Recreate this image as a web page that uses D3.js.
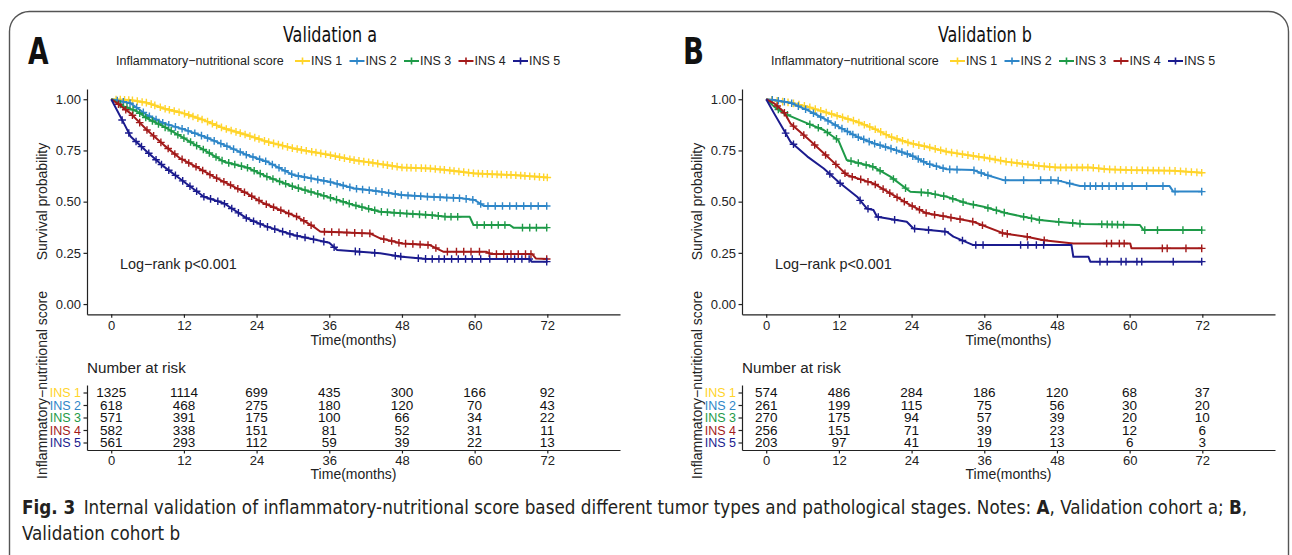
<!DOCTYPE html>
<html>
<head>
<meta charset="utf-8">
<script src="https://cdn.jsdelivr.net/npm/d3@7"></script>
<style>
  body { margin: 0; background: #fff; }
  text { font-family: "Liberation Sans", Arial, sans-serif; }
  .cond { font-family: "Liberation Sans Narrow", "DejaVu Sans Condensed", "Open Sans", sans-serif; }
</style>
</head>
<body>
<script>
// ---------- data ----------
const months = [0, 12, 24, 36, 48, 60, 72];
const groups = ["INS 1", "INS 2", "INS 3", "INS 4", "INS 5"];
const colors = ["#FFD42A", "#2E86C8", "#1E9A48", "#A31A1A", "#1B1B8E"];
const yTicks = [0, 0.25, 0.5, 0.75, 1];

// validation a : [month, survival]
const a_ins1 = [[0,1],[3.2,.996],[5.9,.983],[8.7,.955],[12,.931],[15.3,.898],[18.6,.858],[22.4,.825],[25.7,.793],[30.1,.760],[36,.728],[40,.703],[44.4,.684],[48,.667],[52.6,.662],[55.4,.654],[60,.638],[66.4,.630],[72,.618]];
const a_ins2 = [[0,1],[3.2,.98],[5.9,.923],[8.7,.882],[12,.853],[15.3,.818],[18.6,.777],[22.4,.728],[25.7,.695],[30.1,.63],[36,.597],[40,.565],[44.4,.549],[48,.532],[52.6,.524],[58,.516],[60,.508],[61.5,.479],[72,.479]];
const a_ins3 = [[0,1],[2.1,.965],[4.3,.94],[5.9,.907],[8.7,.866],[12,.81],[15.3,.753],[18.6,.695],[22.4,.667],[25.7,.622],[30.1,.573],[36,.521],[40,.484],[44.4,.451],[48,.443],[52.6,.435],[55.4,.426],[59.2,.426],[59.8,.386],[65.8,.386],[66.4,.373],[72,.373]];
const a_ins4 = [[0,1],[1,.98],[3.2,.931],[5.9,.850],[8.7,.776],[11.4,.711],[14.2,.667],[16.9,.622],[19.7,.581],[22.4,.540],[25.2,.492],[27.9,.459],[30.7,.426],[33.4,.378],[34.5,.354],[42.7,.345],[44.4,.321],[48,.296],[52.6,.288],[54.8,.256],[61.9,.256],[62.7,.244],[69.5,.244],[70.1,.223],[72,.220]];
const a_ins5 = [[0,1],[2.1,.882],[3.2,.818],[5.9,.744],[8.7,.671],[12,.597],[15.3,.524],[18.6,.492],[22.4,.418],[25.7,.378],[30.1,.337],[36,.299],[37.3,.264],[44.4,.248],[48,.231],[52.1,.220],[69.1,.220],[69.4,.207],[72,.207]];

const a_cens1 = [0.8,1.5,2.2,2.9,3.5,4.3,5.1,5.8,6.6,7.2,8.1,8.9,9.6,10.4,11.2,12.1,12.8,13.5,14.3,15.0,15.9,16.7,17.4,18.2,19.0,19.8,20.6,21.3,22.1,22.9,23.7,24.4,25.3,26.0,26.8,27.6,28.3,29.1,29.9,30.7,31.4,32.2,33.1,33.8,34.6,35.4,36.2,37.0,37.7,38.5,39.4,40.1,40.9,41.7,42.5,43.2,44.0,44.9,45.6,46.4,47.2,48.0,48.8,49.5,50.3,51.2,51.9,52.7,53.5,54.3,55.0,55.9,56.6,57.4,58.2,59.0,59.8,60.6,61.3,62.1,62.9,63.7,64.4,65.3,66.0,66.8,67.6,68.3,69.1,69.9,70.7,71.4,72.0];
const a_cens2 = [1.0,2.0,3.1,4.2,5.3,6.3,7.4,8.5,9.5,10.6,11.7,12.7,13.8,14.9,15.9,17.0,18.1,19.1,20.2,21.3,22.3,23.4,24.5,25.5,26.6,27.7,28.7,29.8,30.9,31.9,33.0,34.1,35.1,36.2,37.3,38.3,39.4,40.5,41.5,42.6,43.7,44.7,45.8,46.9,47.9,49.0,50.1,51.1,52.2,53.3,54.3,55.4,56.5,57.5,58.6,59.7,61.0,62.2,63.4,64.6,65.8,66.9,68.1,69.3,70.5,71.9];
const a_cens3 = [1.5,2.6,3.6,4.7,5.7,6.8,7.8,8.9,9.9,11.0,12.0,13.1,14.1,15.2,16.2,17.3,18.3,19.4,20.4,21.5,22.5,23.6,24.6,25.7,26.7,27.8,28.8,29.9,30.9,32.0,33.0,34.1,35.1,36.2,37.2,38.3,39.3,40.4,41.4,42.5,43.5,44.6,45.6,46.7,47.7,48.8,49.8,50.9,51.9,53.0,54.0,55.1,56.1,57.2,60.4,61.6,62.8,63.9,65.0,67.9,69.1,70.2,71.9];
const a_cens4 = [1.2,2.4,3.5,4.7,5.9,7.0,8.2,9.4,10.5,11.7,12.8,14.0,15.1,16.3,17.4,18.6,19.7,20.9,22.0,23.2,24.4,25.6,26.8,28.0,29.3,30.6,31.8,33.0,35.2,36.4,37.6,38.9,40.2,41.4,42.7,45.0,46.3,47.5,48.6,49.8,51.0,52.3,53.6,55.5,57.0,58.2,59.4,60.8,62.4,63.6,64.8,66.0,67.2,68.4,69.3,71.9];
const a_cens5 = [1.8,2.9,4.1,5.0,6.2,7.4,8.3,9.5,10.6,11.8,13.0,14.1,15.3,16.4,17.6,18.7,19.9,21.0,22.3,23.5,24.6,25.8,27.0,28.3,29.5,30.7,32.0,33.4,35.1,36.8,40.3,41.0,43.5,46.9,47.8,50.7,51.9,53.0,54.1,55.0,56.2,57.3,58.5,59.6,61.0,62.5,65.4,66.6,67.8,69.0,71.9];

const a_risk1 = [1325, 1114, 699, 435, 300, 166, 92];
const a_risk2 = [618, 468, 275, 180, 120, 70, 43];
const a_risk3 = [571, 391, 175, 100, 66, 34, 22];
const a_risk4 = [582, 338, 151, 81, 52, 31, 11];
const a_risk5 = [561, 293, 112, 59, 39, 22, 13];

// validation b : [month, survival]
const b_ins1 = [[0,1],[4,.983],[6.8,.964],[9.5,.939],[11.9,.918],[15,.890],[17.7,.858],[20.5,.817],[23.8,.785],[26.5,.768],[29.8,.744],[33.1,.728],[35.9,.716],[39.7,.695],[45.2,.674],[47.9,.667],[53.5,.667],[56.2,.658],[59.8,.654],[67.2,.651],[72,.641]];
const b_ins2 = [[0,1],[1.3,.996],[4,.983],[6.8,.947],[9.5,.906],[11.9,.866],[15,.817],[17.7,.785],[20.5,.760],[23.8,.728],[26.5,.687],[29.8,.658],[34.2,.654],[36.4,.630],[39.2,.605],[47.9,.605],[51.8,.576],[66.6,.576],[67.2,.549],[72,.549]];
const b_ins3 = [[0,1],[1.3,.964],[2.9,.931],[6.8,.882],[9.5,.850],[11.9,.80],[13.3,.703],[17.7,.67],[20.5,.622],[23.8,.548],[26.5,.544],[29.8,.524],[33.1,.492],[35.9,.475],[39.7,.443],[45.2,.410],[47.9,.402],[52.4,.391],[61.7,.386],[62.3,.361],[72,.361]];
const b_ins4 = [[0,1],[1.3,.98],[2.9,.939],[4,.882],[6.8,.809],[9.5,.736],[11.9,.671],[13.3,.630],[17.7,.589],[20.5,.540],[23.8,.483],[26.5,.443],[29.8,.426],[34.2,.402],[39.2,.345],[43,.329],[45.8,.312],[50.7,.296],[60.1,.296],[60.3,.272],[72,.272]];
const b_ins5 = [[0,1],[1.3,.931],[2.9,.850],[4,.793],[6.8,.72],[9.5,.662],[11.9,.597],[15,.524],[16.6,.467],[17.7,.459],[18.3,.426],[23.2,.402],[24.3,.369],[29.8,.353],[30.9,.329],[34.2,.288],[50.4,.288],[50.7,.231],[53.2,.231],[53.5,.207],[72,.207]];

const b_cens1 = [0.9,1.8,2.7,3.6,4.5,5.4,6.3,7.2,8.1,9.0,9.9,10.8,11.7,12.6,13.5,14.4,15.3,16.2,17.1,18.0,18.9,19.8,20.7,21.6,22.5,23.4,24.3,25.2,26.1,27.0,27.9,28.8,29.7,30.6,31.5,32.4,33.3,34.2,35.1,36.0,36.9,37.8,38.7,39.6,40.5,41.4,42.3,43.2,44.1,45.0,45.9,46.8,47.7,48.6,49.5,50.4,51.3,52.2,53.1,54.0,54.9,55.8,56.7,57.6,58.5,59.4,60.3,61.2,62.1,63.0,63.9,64.8,65.7,66.6,67.5,68.4,69.3,70.2,71.1,71.9];
const b_cens2 = [1.0,2.0,3.0,4.2,5.3,6.5,7.8,9.0,10.2,11.4,12.5,13.4,14.3,15.2,16.1,17.0,17.9,18.8,19.7,20.6,21.5,22.4,23.3,24.2,25.1,26.0,27.0,28.1,29.2,30.3,31.5,34.3,35.5,36.6,39.5,42.5,45.3,47.0,48.2,50.1,52.6,53.5,54.4,55.5,56.6,57.8,58.9,60.4,62.8,65.5,67.5,71.9];
const b_cens3 = [2.0,3.5,7.2,8.6,10.1,11.6,14.0,15.2,16.5,17.6,18.8,21.0,23.0,25.6,26.7,27.9,29.3,30.8,32.5,34.2,36.6,38.0,39.3,42.5,43.8,45.1,48.3,50.6,51.8,55.4,56.3,57.1,58.0,59.0,62.5,64.6,68.8,71.9];
const b_cens4 = [1.8,3.0,4.5,6.2,8.0,9.8,11.5,13.0,14.2,15.6,16.8,18.0,19.3,20.4,21.6,22.8,24.1,25.3,26.4,27.8,29.2,30.5,32.0,34.1,35.7,39.0,39.8,43.1,45.9,56.2,57.0,58.3,59.1,65.4,66.2,69.3,71.9];
const b_cens5 = [3.2,4.5,10.5,12.2,15.5,16.8,18.5,21.2,24.5,26.8,29.5,32.4,34.6,35.8,42.0,43.2,44.6,45.8,55.1,56.3,58.6,59.4,61.2,62.0,67.2,71.9];

const b_risk1 = [574, 486, 284, 186, 120, 68, 37];
const b_risk2 = [261, 199, 115, 75, 56, 30, 20];
const b_risk3 = [270, 175, 94, 57, 39, 20, 10];
const b_risk4 = [256, 151, 71, 39, 23, 12, 6];
const b_risk5 = [203, 97, 41, 19, 13, 6, 3];

// ---------- drawing ----------
const W = 1292, H = 555;
const svg = d3.select("body").append("svg")
  .attr("width", W).attr("height", H);

// outer frame
svg.append("rect")
  .attr("x", 9.5).attr("y", 11.5)
  .attr("width", 1279).attr("height", 565)
  .attr("rx", 20)
  .attr("fill", "none").attr("stroke", "#555").attr("stroke-width", 1.4);

// squeeze a text to a given width
function fit(sel, target, x0) {
  const w = sel.node().getBBox().width;
  const k = target / w;
  sel.attr("transform", `translate(${x0},0) scale(${k},1) translate(${-x0},0)`);
}

function styleAxis(ax) {
  ax.selectAll("path, line").attr("stroke", "#222").attr("stroke-width", 1.2);
  ax.selectAll("text").attr("font-size", 13).attr("fill", "#222")
    .attr("font-family", "Liberation Sans, Arial, sans-serif");
}

function drawPanel(dx, letter, title, curves, cens, risk) {
  const g = svg.append("g").attr("transform", `translate(${dx},0)`);

  const x = d3.scaleLinear().domain([-4, 84]).range([87, 620]);
  const y = d3.scaleLinear().domain([-0.05, 1.05]).range([314.3, 89]);

  // letter & title
  const lt = g.append("text").attr("class", "cond")
    .attr("x", 28).attr("y", 64)
    .attr("font-size", 38).attr("font-weight", 600).attr("fill", "#111")
    .text(letter);
  fit(lt, 21, 28);
  const tt = g.append("text").attr("class", "cond")
    .attr("x", 330).attr("y", 42).attr("text-anchor", "middle")
    .attr("font-size", 21).attr("font-weight", 500).attr("fill", "#111")
    .text(title);
  fit(tt, 94, 330);

  // legend
  g.append("text")
    .attr("x", 116).attr("y", 61).attr("dy", "0.35em")
    .attr("font-size", 12.5).attr("fill", "#222")
    .text("Inflammatory\u2212nutritional score");
  groups.forEach((name, i) => {
    const sx = 295 + i * 54.5;
    g.append("line").attr("x1", sx).attr("x2", sx + 15).attr("y1", 61).attr("y2", 61)
      .attr("stroke", colors[i]).attr("stroke-width", 2);
    g.append("line").attr("x1", sx + 7.5).attr("x2", sx + 7.5).attr("y1", 57.5).attr("y2", 64.5)
      .attr("stroke", colors[i]).attr("stroke-width", 1.6);
    g.append("text").attr("x", sx + 16).attr("y", 61).attr("dy", "0.35em")
      .attr("font-size", 12.5).attr("fill", "#222").text(name);
  });

  // axes
  const ax = g.append("g").attr("transform", "translate(0,314.3)")
    .call(d3.axisBottom(x).tickValues(months).tickSize(3.5).tickSizeOuter(0).tickPadding(2.5));
  styleAxis(ax);
  const ay = g.append("g").attr("transform", "translate(87,0)")
    .call(d3.axisLeft(y).tickValues(yTicks).tickFormat(d3.format(".2f")).tickSize(3.5).tickSizeOuter(0).tickPadding(2.5));
  styleAxis(ay);

  g.append("text").attr("x", 353.5).attr("y", 340).attr("dy", "0.35em")
    .attr("text-anchor", "middle").attr("font-size", 14).attr("fill", "#222")
    .text("Time(months)");
  g.append("text").attr("transform", "translate(42,201.5) rotate(-90)")
    .attr("dy", "0.35em").attr("text-anchor", "middle")
    .attr("font-size", 14).attr("fill", "#222")
    .text("Survival probability");

  // curves
  const line = d3.line().x(d => x(d[0])).y(d => y(d[1]));
  curves.forEach((c, i) => {
    g.append("path").datum(c)
      .attr("d", line)
      .attr("fill", "none").attr("stroke", colors[i]).attr("stroke-width", 2)
      .attr("stroke-linejoin", "round");
    // censor marks sit on the curve
    const at = t => {
      const j = d3.bisector(d => d[0]).right(c, t);
      if (j <= 0) return c[0][1];
      if (j >= c.length) return c[c.length - 1][1];
      const p = c[j - 1], q = c[j];
      return p[1] + (q[1] - p[1]) * (t - p[0]) / (q[0] - p[0]);
    };
    g.append("path")
      .attr("d", cens[i].map(t => {
        const px = x(t), py = y(at(t));
        return `M${px - 3.8},${py}h7.6M${px},${py - 3.8}v7.6`;
      }).join(""))
      .attr("fill", "none").attr("stroke", colors[i]).attr("stroke-width", 1.4);
  });

  g.append("text").attr("x", 120).attr("y", 264).attr("dy", "0.35em")
    .attr("font-size", 14.4).attr("fill", "#222")
    .text("Log\u2212rank p<0.001");

  // risk table
  g.append("text").attr("x", 87).attr("y", 368).attr("dy", "0.35em")
    .attr("font-size", 15.2).attr("fill", "#222")
    .text("Number at risk");

  const yr = d3.scalePoint().domain(groups).range([385, 450]).padding(0.6);
  const rx = g.append("g").attr("transform", "translate(0,450)")
    .call(d3.axisBottom(x).tickValues(months).tickSize(3.5).tickSizeOuter(0).tickPadding(2.5));
  styleAxis(rx);
  const ry = g.append("g").attr("transform", "translate(87,0)")
    .call(d3.axisLeft(yr).tickSize(3.5).tickSizeOuter(0).tickPadding(2.5));
  styleAxis(ry);
  ry.selectAll("text").attr("font-size", 12.5).attr("fill", (d, i) => colors[i]);

  risk.forEach((row, i) => {
    g.selectAll(null).data(row).join("text")
      .attr("x", (d, j) => x(months[j]))
      .attr("y", yr(groups[i])).attr("dy", "0.35em")
      .attr("text-anchor", "middle").attr("font-size", 13.5).attr("fill", "#111")
      .text(d => d);
  });

  g.append("text").attr("x", 353.5).attr("y", 474).attr("dy", "0.35em")
    .attr("text-anchor", "middle").attr("font-size", 14).attr("fill", "#222")
    .text("Time(months)");
  g.append("text").attr("transform", "translate(42,385) rotate(-90)")
    .attr("dy", "0.35em").attr("text-anchor", "middle")
    .attr("font-size", 14).attr("fill", "#222")
    .text("Inflammatory\u2212nutritional score");
}

drawPanel(0, "A", "Validation a",
  [a_ins1, a_ins2, a_ins3, a_ins4, a_ins5],
  [a_cens1, a_cens2, a_cens3, a_cens4, a_cens5],
  [a_risk1, a_risk2, a_risk3, a_risk4, a_risk5]);
drawPanel(655, "B", "Validation b",
  [b_ins1, b_ins2, b_ins3, b_ins4, b_ins5],
  [b_cens1, b_cens2, b_cens3, b_cens4, b_cens5],
  [b_risk1, b_risk2, b_risk3, b_risk4, b_risk5]);

// caption
const cap = svg.append("text").attr("class", "cond")
  .attr("x", 22).attr("y", 514).attr("font-size", 19.5).attr("fill", "#231f20");
cap.append("tspan").attr("font-weight", "bold").text("Fig. 3");
cap.append("tspan").text("\u2002Internal validation of inflammatory-nutritional score based different tumor types and pathological stages. Notes: ");
cap.append("tspan").attr("font-weight", "bold").text("A");
cap.append("tspan").text(", Validation cohort a; ");
cap.append("tspan").attr("font-weight", "bold").text("B");
cap.append("tspan").text(",");
const capW = cap.node().getBBox().width;
const kCap = 1226 / capW;
cap.attr("transform", `translate(22,0) scale(${kCap},1) translate(-22,0)`);
svg.append("text").attr("class", "cond")
  .attr("x", 22).attr("y", 540).attr("font-size", 19.5).attr("fill", "#231f20")
  .attr("transform", `translate(22,0) scale(${kCap},1) translate(-22,0)`)
  .text("Validation cohort b");
</script>
</body>
</html>
